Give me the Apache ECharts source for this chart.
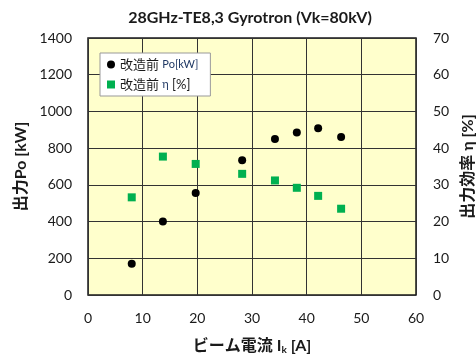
<!DOCTYPE html>
<html>
<head>
<meta charset="utf-8">
<script src="https://cdn.jsdelivr.net/npm/echarts@6/dist/echarts.min.js"></script>
<style>
  html, body { margin: 0; padding: 0; background: #fff; }
  #chart { width: 476px; height: 358px; }
</style>
</head>
<body>
<div id="chart"></div>
<script>
// beam current [A]
const beamCurrent = [8, 13.7, 19.7, 28.2, 34.2, 38.2, 42.1, 46.3];
// output power [kW]
const powerKW = [170, 400, 555, 734, 850, 885, 909, 861];
// efficiency [%]
const efficiency = [26.6, 37.7, 35.7, 33.0, 31.2, 29.2, 27.0, 23.5];

const FONT = "Lato, 'Noto Sans CJK JP', sans-serif";
const TXT = '#1a1a1a';

const chart = echarts.init(document.getElementById('chart'));

const option = {
    backgroundColor: '#fff',
    animation: false,
    textStyle: { fontFamily: FONT },
    title: {
        text: '28GHz-TE8,3 Gyrotron (Vk=80kV)',
        left: 245,
        textAlign: 'center',
        top: 5,
        textStyle: { fontSize: 16, fontWeight: 'bold', color: TXT, fontFamily: FONT }
    },
    grid: {
        left: 88,
        right: 60,
        top: 38,
        bottom: 63,
        outerBoundsMode: 'none',
        show: true,
        backgroundColor: '#FFFFCC',
        borderColor: '#1a1a1a',
        borderWidth: 1.5
    },
    legend: {
        orient: 'vertical',
        left: 100,
        top: 53,
        backgroundColor: '#fff',
        borderColor: '#999',
        borderWidth: 1,
        borderRadius: 0,
        padding: [5, 12, 5, 7],
        itemGap: 7,
        itemWidth: 8,
        itemHeight: 8,
        formatter: (name) => {
            // 改造前 + small unit label
            return name === 'po' ? '{a|改造前 }{b|Po[kW]}' : '{a|改造前 }{b|η}{a| [%]}';
        },
        textStyle: {
            rich: {
                a: { fontSize: 13, color: TXT, fontFamily: FONT },
                b: { fontSize: 11, color: '#1F3864', fontFamily: FONT }
            }
        },
        data: [
            { name: 'po', icon: 'circle' },
            { name: 'eta', icon: 'rect' }
        ]
    },
    xAxis: {
        type: 'value',
        min: 0,
        max: 60,
        interval: 10,
        name: 'ビーム電流 I{sub|k} [A]',
        nameLocation: 'middle',
        nameGap: 41,
        nameTextStyle: {
            fontSize: 16,
            fontWeight: 'bold',
            color: TXT,
            fontFamily: FONT,
            rich: {
                sub: { fontSize: 10, fontWeight: 'bold', color: TXT, verticalAlign: 'bottom', padding: [9, 0, 0, 0] }
            }
        },
        axisLine: { show: false },
        axisTick: { show: false },
        axisLabel: { color: TXT, fontSize: 14, margin: 16 },
        splitLine: { show: true, lineStyle: { color: '#333', width: 1 } }
    },
    yAxis: [
        {
            type: 'value',
            min: 0,
            max: 1400,
            interval: 200,
            position: 'left',
            name: '出力Po [kW]',
            nameLocation: 'middle',
            nameGap: 58,
            nameRotate: 90,
            nameTextStyle: { fontSize: 16, fontWeight: 'bold', color: TXT, fontFamily: FONT },
            axisLine: { show: false },
            axisTick: { show: false },
            axisLabel: { color: TXT, fontSize: 14, margin: 16, formatter: (v) => String(v) },
            splitLine: { show: true, lineStyle: { color: '#333', width: 1 } }
        },
        {
            type: 'value',
            min: 0,
            max: 70,
            interval: 10,
            position: 'right',
            name: '出力効率 η [%]',
            nameLocation: 'middle',
            nameGap: 41,
            nameRotate: 90,
            nameTextStyle: { fontSize: 16, fontWeight: 'bold', color: TXT, fontFamily: FONT },
            axisLine: { show: false },
            axisTick: { show: false },
            axisLabel: { color: TXT, fontSize: 14, margin: 17 },
            splitLine: { show: false }
        }
    ],
    series: [
        {
            name: 'po',
            type: 'scatter',
            yAxisIndex: 0,
            symbol: 'circle',
            symbolSize: 8,
            itemStyle: { color: '#000', opacity: 1 },
            data: beamCurrent.map((x, i) => [x, powerKW[i]])
        },
        {
            name: 'eta',
            type: 'scatter',
            yAxisIndex: 1,
            symbol: 'rect',
            symbolSize: 8,
            itemStyle: { color: '#00B050', opacity: 1 },
            data: beamCurrent.map((x, i) => [x, efficiency[i]])
        }
    ]
};

chart.setOption(option);
</script>
</body>
</html>
